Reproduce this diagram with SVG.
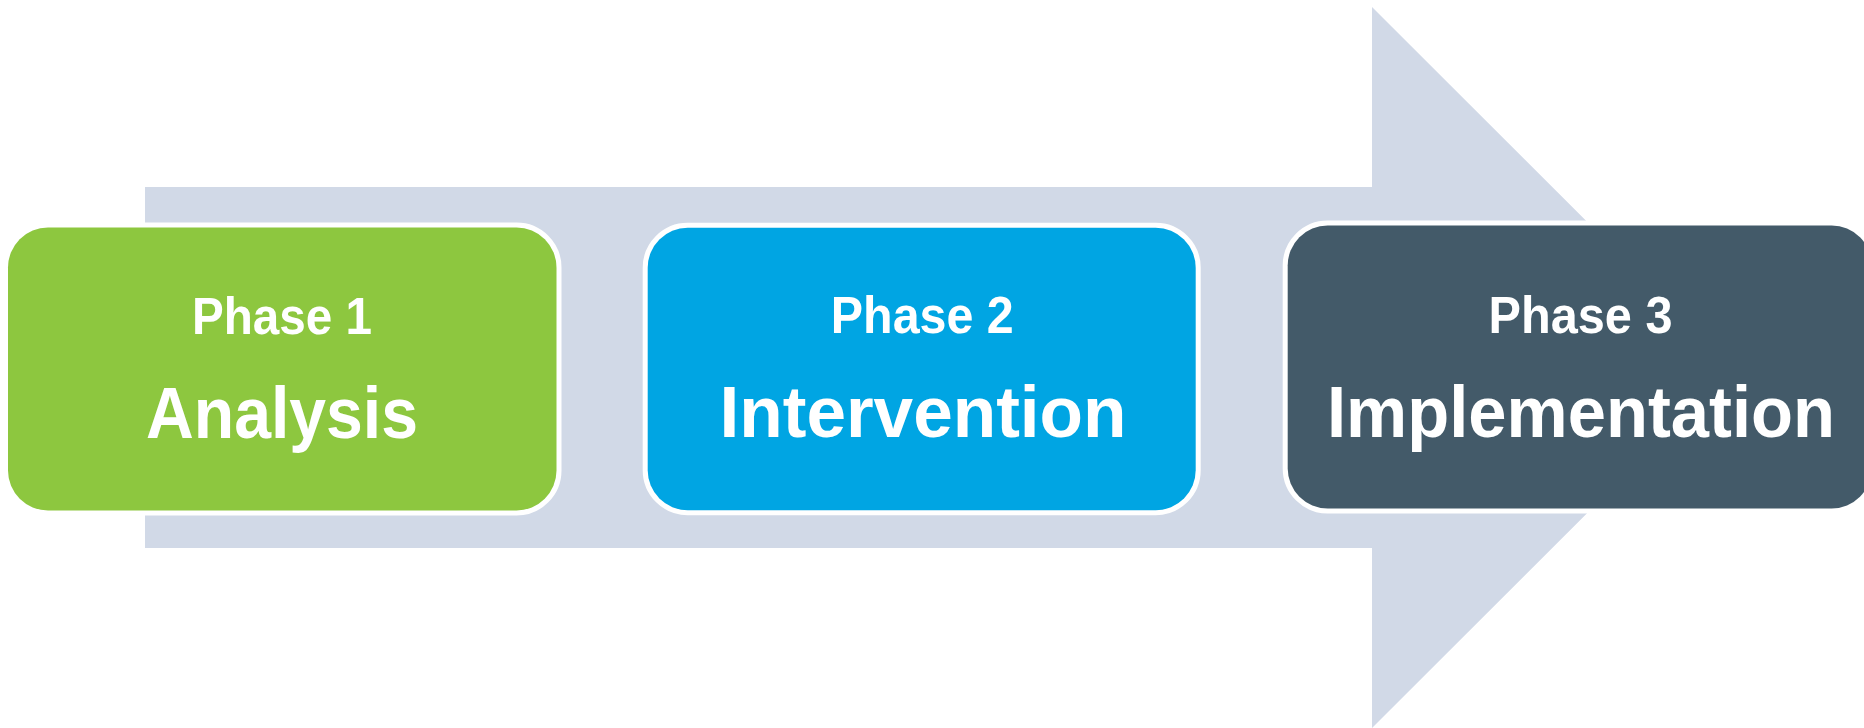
<svg xmlns="http://www.w3.org/2000/svg" width="1864" height="728" viewBox="0 0 1864 728">
  <style>
    .box { stroke: #FFFFFF; stroke-width: 10; paint-order: stroke; }
    .p1 { fill: #8DC73F; }
    .p2 { fill: #00A5E3; }
    .p3 { fill: #435A69; }
    .arrow { fill: #D1D9E7; }
    .sub { font-family: "Liberation Sans", Arial, sans-serif; font-weight: bold; font-size: 52px; fill: #FFFFFF; text-anchor: middle; }
    .title { font-family: "Liberation Sans", Arial, sans-serif; font-weight: bold; font-size: 73px; fill: #FFFFFF; text-anchor: middle; }
  </style>
  <rect x="0" y="0" width="1864" height="728" fill="#FFFFFF"/>
  <g id="connectors">
    <polygon class="arrow" points="145,187 1372,187 1372,7 1733,367.5 1372,728 1372,548 145,548"/>
  </g>
  <g id="phase1">
    <rect class="box p1" x="8" y="227.5" width="548.5" height="283" rx="40" ry="40"/>
    <text class="sub" x="282" y="334.3" textLength="180" lengthAdjust="spacingAndGlyphs">Phase 1</text>
    <text class="title" x="282" y="437.7" textLength="272" lengthAdjust="spacingAndGlyphs">Analysis</text>
  </g>
  <g id="phase2">
    <rect class="box p2" x="647.7" y="227.7" width="548" height="282.5" rx="40" ry="40"/>
    <text class="sub" x="922.3" y="333.3" textLength="183" lengthAdjust="spacingAndGlyphs">Phase 2</text>
    <text class="title" x="923" y="436.7" textLength="407" lengthAdjust="spacingAndGlyphs">Intervention</text>
  </g>
  <g id="phase3">
    <rect class="box p3" x="1287.7" y="225.5" width="584" height="283" rx="40" ry="40"/>
    <text class="sub" x="1580.5" y="333.3" textLength="184" lengthAdjust="spacingAndGlyphs">Phase 3</text>
    <text class="title" x="1581" y="436.5" textLength="508" lengthAdjust="spacingAndGlyphs">Implementation</text>
  </g>
</svg>
